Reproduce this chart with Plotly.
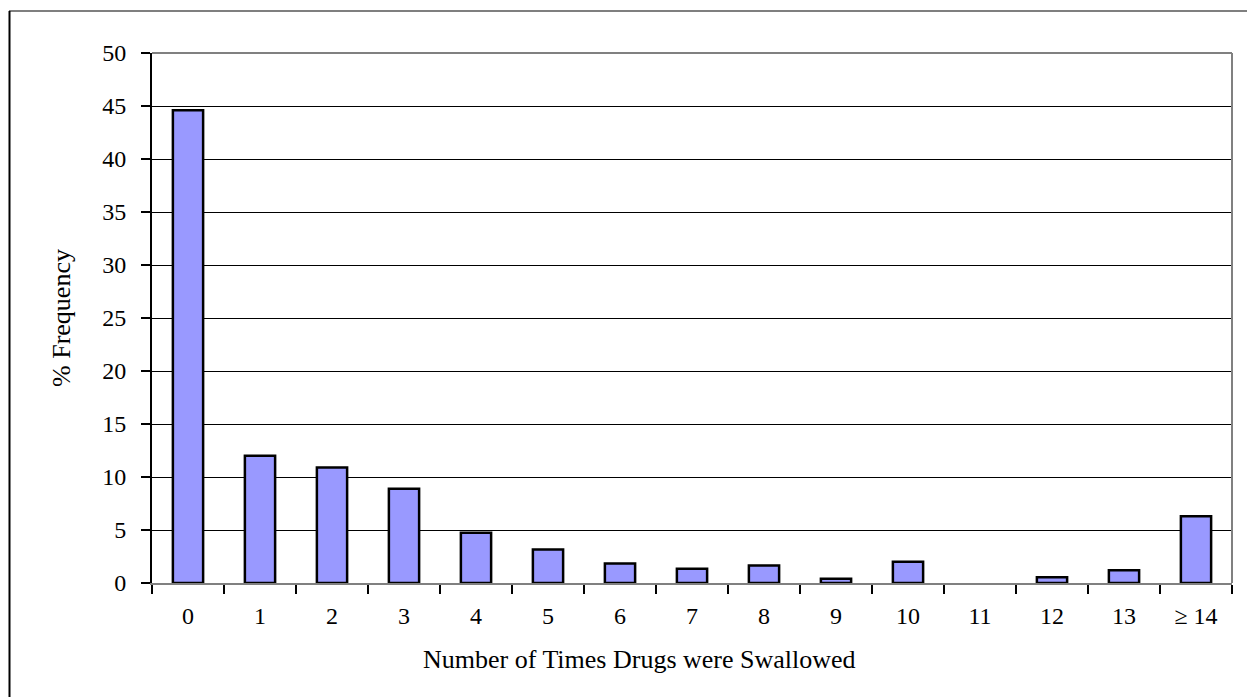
import plotly.graph_objects as go

categories = ["0", "1", "2", "3", "4", "5", "6", "7", "8", "9", "10", "11", "12", "13", "≥ 14"]
pct_frequency = [44.6, 12.0, 10.9, 8.9, 4.75, 3.15, 1.85, 1.35, 1.65, 0.4, 2.0, 0.0, 0.55, 1.2, 6.3]

W, H = 1247, 697
L, R, T, B = 152, 15, 53, 114
pw, ph = W - L - R, H - T - B

def px(x):
    return (x - L) / pw

def py(y):
    return (H - B - y) / ph

font = "Liberation Serif, Times New Roman, serif"

outline_w = [2.5 if v > 0 else 0 for v in pct_frequency]

fig = go.Figure(go.Bar(
    x=categories, y=pct_frequency,
    marker=dict(color="#9999FF", line=dict(color="black", width=outline_w)),
    width=0.42,
))

fig.update_layout(
    width=W, height=H,
    margin=dict(l=L, r=R, t=T, b=B),
    paper_bgcolor="white", plot_bgcolor="white",
    showlegend=False,
    font=dict(family=font, size=24, color="black"),
    xaxis=dict(
        type="category", tickson="boundaries", ticks="outside", ticklen=9,
        tickcolor="black", tickwidth=1.5,
        showline=True, linecolor="#808080", linewidth=2, mirror=False,
        showgrid=False, tickfont=dict(size=24), ticklabelstandoff=10,
    ),
    yaxis=dict(
        range=[0, 50], dtick=5, ticks="outside", ticklen=9, tickcolor="black", tickwidth=1.5,
        showline=True, linecolor="black", linewidth=2,
        showgrid=True, gridcolor="black", gridwidth=1,
        zeroline=False, tickfont=dict(size=24), ticklabelstandoff=10,
        title=dict(text="% Frequency", font=dict(size=26), standoff=24),
    ),
    annotations=[
        dict(text="Number of Times Drugs were Swallowed", xref="paper", yref="paper",
             x=px(639), y=py(659), xanchor="center", yanchor="middle",
             showarrow=False, font=dict(size=26)),
    ],
    shapes=[
        dict(type="line", xref="paper", yref="paper", x0=0, x1=1, y0=1, y1=1,
             line=dict(color="#808080", width=2)),
        dict(type="line", xref="paper", yref="paper", x0=1, x1=1, y0=0, y1=1,
             line=dict(color="#808080", width=2)),
        # outer frame: top (gray) and left (black) edges
        dict(type="line", xref="paper", yref="paper",
             x0=px(9), x1=px(1247), y0=py(11), y1=py(11),
             line=dict(color="#555555", width=1.5), layer="below"),
        dict(type="line", xref="paper", yref="paper",
             x0=px(9.5), x1=px(9.5), y0=py(11), y1=py(697),
             line=dict(color="black", width=2), layer="below"),
    ],
)

fig.write_html("out.html", config={"displayModeBar": False},
               post_script="document.body.style.margin='0';document.body.style.padding='0';")
